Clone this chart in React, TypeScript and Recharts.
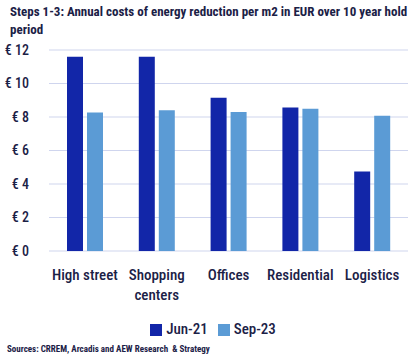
import { Bar, BarChart, CartesianGrid, Legend, Text, XAxis, YAxis } from "recharts";

const categories = ["High street", "Shopping centers", "Offices", "Residential", "Logistics"];
const jun21 = [11.6, 11.6, 9.15, 8.57, 4.75];
const sep23 = [8.27, 8.4, 8.3, 8.5, 8.07];
const yTicks = [0, 2, 4, 6, 8, 10, 12];

const data = categories.map((name, i) => ({ name, jun21: jun21[i], sep23: sep23[i] }));

const FONT =
  '"Roboto Condensed", "Liberation Sans Narrow", "DejaVu Sans Condensed", sans-serif';
const NAVY = "#1b2146";

function CategoryTick(props: any) {
  const { x, y, payload } = props;
  return (
    <Text
      x={x}
      y={y}
      width={82}
      textAnchor="middle"
      verticalAnchor="start"
      lineHeight={20}
      style={{ fontFamily: FONT, fontSize: 15, fontWeight: 500 }}
      fill={NAVY}
    >
      {payload.value}
    </Text>
  );
}

export default function App() {
  return (
    <div
      style={{
        position: "fixed",
        left: 0,
        top: 0,
        width: 418,
        height: 358,
        background: "#fff",
        fontFamily: FONT,
      }}
    >
      <div
        style={{
          position: "absolute",
          left: 10,
          top: 3,
          width: 400,
          fontSize: 13,
          fontWeight: 700,
          lineHeight: "18px",
          color: NAVY,
        }}
      >
        Steps 1-3: Annual costs of energy reduction per m2 in EUR over 10 year hold period
      </div>
      <BarChart
        width={418}
        height={358}
        data={data}
        margin={{ top: 50, right: 10, left: 0, bottom: 20 }}
        barSize={16}
        barGap={4}
        barCategoryGap="25%"
      >
        <CartesianGrid vertical={false} stroke="#cfd5ee" strokeWidth={1.2} />
        <XAxis
          dataKey="name"
          axisLine={false}
          tickLine={false}
          interval={0}
          height={68}
          tickMargin={12}
          tick={<CategoryTick />}
        />
        <YAxis
          width={49}
          domain={[0, 12]}
          ticks={yTicks}
          axisLine={false}
          tickLine={false}
          tickMargin={14}
          tickFormatter={(v: number) => `€ ${v}`}
          tick={{ fontFamily: FONT, fontSize: 14, fontWeight: 500, fill: NAVY }}
        />
        <Legend
          verticalAlign="bottom"
          iconType="square"
          iconSize={12}
          wrapperStyle={{ paddingLeft: 14 }}
          formatter={(value: string) => (
            <span style={{ color: NAVY, fontSize: 15, fontWeight: 500 }}>{value}</span>
          )}
        />
        <Bar dataKey="jun21" name="Jun-21" fill="#1226a8" isAnimationActive={false} />
        <Bar dataKey="sep23" name="Sep-23" fill="#5b9bd5" isAnimationActive={false} />
      </BarChart>
      <div
        style={{
          position: "absolute",
          left: 7,
          top: 344,
          fontSize: 9,
          fontWeight: 700,
          color: NAVY,
          whiteSpace: "nowrap",
        }}
      >
        Sources: CRREM, Arcadis and AEW Research &nbsp;&amp; Strategy
      </div>
    </div>
  );
}
